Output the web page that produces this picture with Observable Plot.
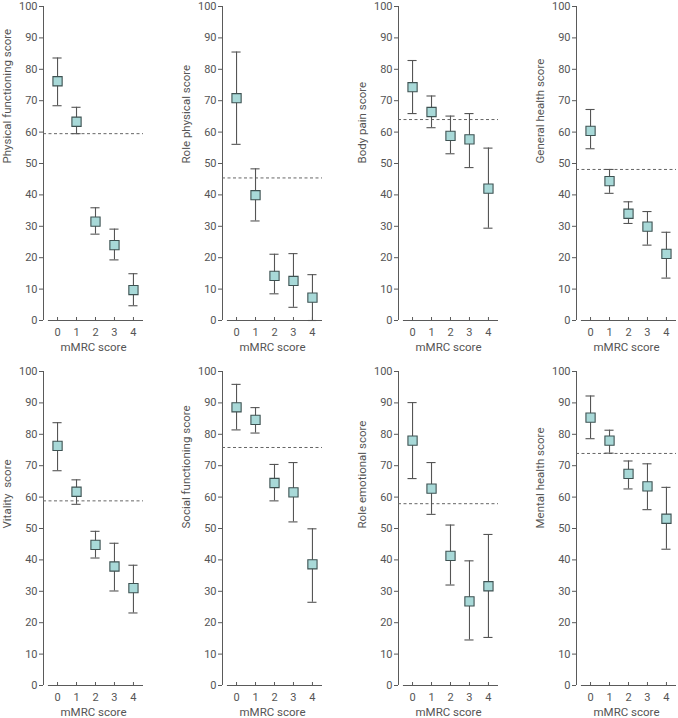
<!DOCTYPE html>
<html>
<head>
<meta charset="utf-8">
<script src="https://cdn.jsdelivr.net/npm/d3@7"></script>
<script src="https://cdn.jsdelivr.net/npm/@observablehq/plot@0.6"></script>
<style>
  html, body { margin: 0; padding: 0; background: #fff; }
  #chart { position: relative; width: 678px; height: 718px; overflow: hidden; }
  .panel { position: absolute; width: 151px; height: 358px; }
  .panel svg { max-width: none !important; }
</style>
</head>
<body>
<div id="chart"></div>
<script>
// ---- data ----
const mmrc = [0, 1, 2, 3, 4];
const yTicks = [0, 10, 20, 30, 40, 50, 60, 70, 80, 90, 100];
const xTitle = "mMRC score";
const panelLabels = [
  "Physical functioning score", "Role physical score", "Body pain score", "General health score",
  "Vitality  score", "Social functioning score", "Role emotional score", "Mental health score"
];
const referenceLines = [59.5, 45.4, 64.0, 48.1, 58.8, 75.8, 57.9, 73.9];

const physicalMean = [76.2, 63.3, 31.5, 24.0, 9.7];
const physicalLow  = [68.4, 59.5, 27.5, 19.3, 4.7];
const physicalHigh = [83.6, 67.9, 35.9, 29.1, 14.9];

const rolePhysicalMean = [70.8, 39.9, 14.2, 12.6, 7.3];
const rolePhysicalLow  = [56.1, 31.7, 8.5, 4.2, 0.0];
const rolePhysicalHigh = [85.5, 48.3, 21.1, 21.3, 14.6];

const bodyPainMean = [74.3, 66.4, 58.8, 57.7, 42.0];
const bodyPainLow  = [65.9, 61.4, 53.1, 48.7, 29.4];
const bodyPainHigh = [82.8, 71.5, 65.1, 65.9, 54.9];

const generalHealthMean = [60.4, 44.4, 34.0, 29.9, 21.2];
const generalHealthLow  = [54.7, 40.5, 30.9, 24.0, 13.5];
const generalHealthHigh = [67.2, 48.1, 37.8, 34.7, 28.1];

const vitalityMean = [76.3, 61.7, 44.8, 37.9, 31.0];
const vitalityLow  = [68.4, 57.7, 40.6, 30.1, 23.1];
const vitalityHigh = [83.7, 65.5, 49.1, 45.3, 38.3];

const socialMean = [88.6, 84.6, 64.5, 61.5, 38.6];
const socialLow  = [81.4, 80.4, 58.8, 52.1, 26.5];
const socialHigh = [95.9, 88.5, 70.4, 71.0, 49.9];

const roleEmotionalMean = [78.0, 62.7, 41.3, 26.8, 31.6];
const roleEmotionalLow  = [65.9, 54.5, 32.0, 14.5, 15.3];
const roleEmotionalHigh = [90.1, 71.0, 51.1, 39.7, 48.1];

const mentalMean = [85.3, 78.0, 67.4, 63.4, 53.1];
const mentalLow  = [78.6, 74.0, 62.6, 56.0, 43.4];
const mentalHigh = [92.2, 81.3, 71.5, 70.6, 63.1];

const seriesMeans = [physicalMean, rolePhysicalMean, bodyPainMean, generalHealthMean,
                     vitalityMean, socialMean, roleEmotionalMean, mentalMean];
const seriesLows  = [physicalLow, rolePhysicalLow, bodyPainLow, generalHealthLow,
                     vitalityLow, socialLow, roleEmotionalLow, mentalLow];
const seriesHighs = [physicalHigh, rolePhysicalHigh, bodyPainHigh, generalHealthHigh,
                     vitalityHigh, socialHigh, roleEmotionalHigh, mentalHigh];

// ---- layout (style) ----
const xDomain = [-0.74, 4.53];
const xAxisStart = -0.48;
const capHalf = 0.24;
const panelLefts = [0, 179, 355, 533];
const rowTops = [0, 365];
const axisColor = "#5a5a5a";
const textColor = "#555";
const fontFamily = "Roboto, 'Liberation Sans', sans-serif";

const chart = document.getElementById("chart");

panelLabels.forEach((label, i) => {
  const rows = mmrc.map((c, j) => ({
    x: c, mean: seriesMeans[i][j], lo: seriesLows[i][j], hi: seriesHighs[i][j]
  }));
  const plot = Plot.plot({
    width: 151,
    height: 358,
    marginLeft: 43,
    marginRight: 8,
    marginTop: 6,
    marginBottom: 38,
    style: { fontFamily, fontSize: "11px", color: textColor, background: "transparent", overflow: "visible" },
    x: { domain: xDomain, axis: null },
    y: { domain: [0, 100], axis: null },
    marks: [
      // y axis line
      Plot.ruleX([xDomain[0]], { y1: 0, y2: 100, stroke: axisColor }),
      // x axis line
      Plot.ruleY([0], { x1: xAxisStart, x2: xDomain[1], stroke: axisColor }),
      Plot.axisY({ ticks: yTicks, tickSize: 4, tickPadding: 2, stroke: axisColor, label: null, fill: textColor }),
      Plot.axisX({ ticks: mmrc, tickSize: 0, tickPadding: 8, tickFormat: d => d, label: null, fill: textColor }),
      Plot.ruleX(mmrc, { x: d => d, y1: 0, y2: 0, insetTop: -3, stroke: axisColor }),
      // titles
      Plot.text([label], { text: d => d, frameAnchor: "left", lineAnchor: "middle", dx: -36, rotate: -90, fill: textColor, fontSize: 11.5 }),
      Plot.text([xTitle], { text: d => d, frameAnchor: "bottom", lineAnchor: "middle", dy: 27, fill: textColor, fontSize: 11.5 }),
      // reference line
      Plot.ruleY([referenceLines[i]], { x1: xDomain[0], x2: xDomain[1], stroke: "#666", strokeDasharray: "3,2.5" }),
      // error bars
      Plot.ruleX(rows, { x: "x", y1: "lo", y2: "hi", stroke: "#555", strokeWidth: 1.1 }),
      Plot.ruleY(rows, { y: "hi", x1: d => d.x - capHalf, x2: d => d.x + capHalf, stroke: "#555", strokeWidth: 1.1 }),
      Plot.ruleY(rows, { y: "lo", x1: d => d.x - capHalf, x2: d => d.x + capHalf, stroke: "#555", strokeWidth: 1.1 }),
      // points
      Plot.dot(rows, { x: "x", y: "mean", symbol: "square", r: 5.2, fill: "#a8d9d8", stroke: "#3e5252", strokeWidth: 1.1 })
    ]
  });
  const div = document.createElement("div");
  div.className = "panel";
  div.style.left = panelLefts[i % 4] + "px";
  div.style.top = rowTops[Math.floor(i / 4)] + "px";
  div.appendChild(plot);
  chart.appendChild(div);
});
</script>
</body>
</html>
